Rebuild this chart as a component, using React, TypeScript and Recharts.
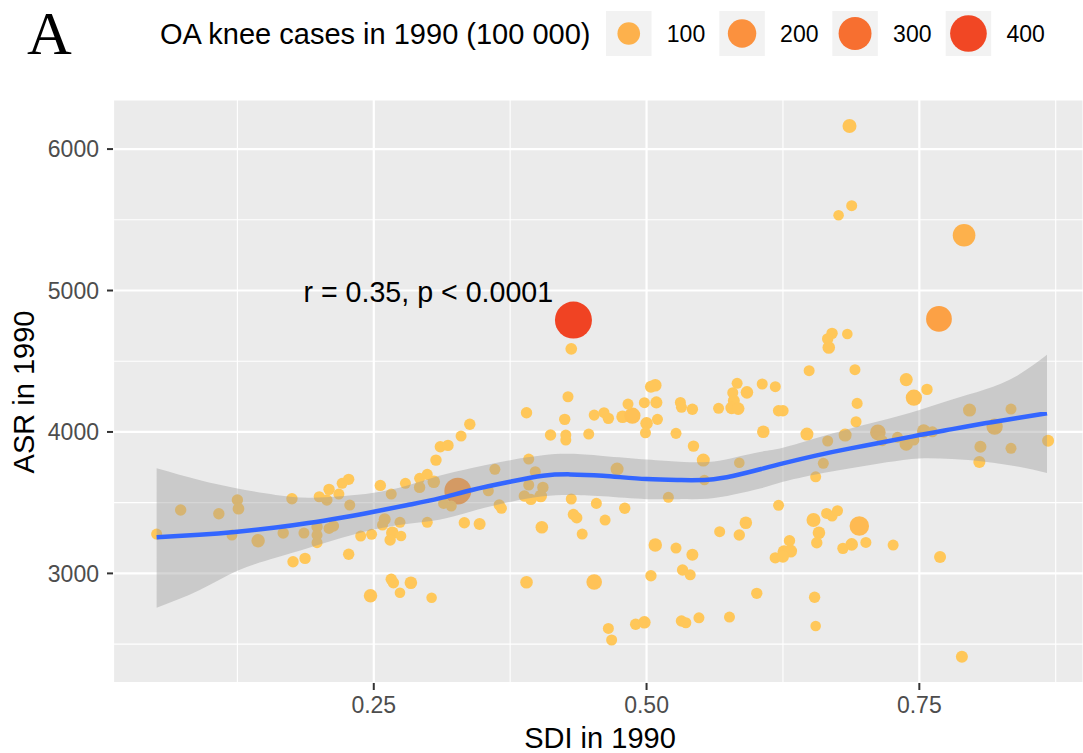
import React from 'react';
import {
  ComposedChart,
  Scatter,
  Area,
  Line,
  XAxis,
  YAxis,
  CartesianGrid,
  ReferenceDot,
} from 'recharts';

// ---------- data ----------
const sdi = [
  0.051, 0.073, 0.108, 0.125, 0.126, 0.120, 0.144, 0.167, 0.175, 0.176,
  0.187, 0.186, 0.198, 0.198, 0.198, 0.200, 0.207, 0.209, 0.209, 0.213,
  0.218, 0.221, 0.227, 0.228, 0.227, 0.238, 0.247, 0.248, 0.256, 0.260,
  0.258, 0.266, 0.267, 0.265, 0.274, 0.275, 0.266, 0.268, 0.274, 0.284,
  0.303, 0.279, 0.292, 0.299, 0.292, 0.305, 0.299, 0.307, 0.311, 0.318,
  0.327, 0.330, 0.338, 0.314, 0.321, 0.333, 0.347, 0.355, 0.361, 0.365,
  0.367, 0.390, 0.392, 0.398, 0.392, 0.388, 0.394, 0.405, 0.403, 0.404,
  0.390, 0.412, 0.425, 0.428, 0.426, 0.426, 0.431, 0.433, 0.436, 0.441,
  0.447, 0.452, 0.454, 0.462, 0.452, 0.461, 0.465, 0.478, 0.487, 0.483,
  0.473, 0.480, 0.465, 0.468, 0.490, 0.498, 0.504, 0.508, 0.498, 0.500,
  0.499, 0.504, 0.508, 0.509, 0.510, 0.520, 0.527, 0.527, 0.531, 0.532,
  0.542, 0.543, 0.552, 0.553, 0.542, 0.533, 0.540, 0.532, 0.536, 0.548,
  0.566, 0.579, 0.583, 0.580, 0.578, 0.584, 0.592, 0.585, 0.567, 0.585,
  0.591, 0.576, 0.601, 0.607, 0.433, 0.431,
  0.606, 0.618, 0.621, 0.625, 0.621, 0.647, 0.666, 0.662, 0.655, 0.682,
  0.693, 0.692, 0.712, 0.716, 0.730, 0.738, 0.745, 0.757, 0.754, 0.762,
  0.745, 0.796, 0.834, 0.819, 0.806, 0.805, 0.834, 0.868, 0.653, 0.665,
  0.670, 0.675, 0.658, 0.656, 0.695, 0.631, 0.626, 0.632, 0.618, 0.625,
  0.680, 0.688, 0.701, 0.726, 0.769, 0.654, 0.655, 0.789,
  0.686, 0.688, 0.676, 0.791, 0.768, 0.670, 0.666, 0.667, 0.684, 0.649,
  0.691, 0.738,
];

const asr = [
  3278, 3448, 3422, 3519, 3457, 3271, 3231, 3285, 3528, 3082,
  3106, 3285, 3330, 3271, 3217, 3542, 3519, 3594, 3318, 3335,
  3561, 3637, 3665, 3483, 3135, 3264, 2842, 3276, 3622, 3382,
  3342, 3561, 3287, 3236, 3361, 3264, 2958, 2934, 2863, 2934,
  2828, 3637, 3672, 3700, 3608, 3648, 3361, 3801, 3895, 3905,
  3582, 3971, 4054, 3495, 3476, 3358, 3349, 3584, 3736, 3483,
  3460, 4136, 3808, 3719, 3625, 3547, 3523, 3608, 3547, 3326,
  2937, 3978, 4089, 4249, 3978, 3943, 3526, 3417, 3393, 3278,
  3985, 4119, 3495, 3377, 2939, 4136, 4096, 4107, 4115, 4197,
  3738, 3460, 2611, 2529, 2640, 2654, 2983, 3200, 4207, 4061,
  3994, 4320, 4330, 4209, 4089, 3538, 3990, 3179, 4209, 4174,
  4160, 3900, 3801, 3660, 3132, 3024, 2990, 2663, 2651, 2686,
  4167, 4277, 4344, 4221, 4170, 4165, 4280, 3782, 3295, 3271,
  3358, 2691, 2859, 4001, 4791, 4588,
  4339, 4320, 4150, 4150, 3481, 3985, 3936, 3778, 3683, 3978,
  4202, 4072, 3997, 3938, 3962, 3914, 4242, 4301, 4006, 4001,
  3943, 4155, 4162, 4037, 3895, 3787, 3884, 3938, 3377, 3424,
  3405, 3443, 3287, 3217, 3335, 3231, 3153, 3158, 3110, 3118,
  3177, 3205, 3219, 3200, 3116, 2831, 2628, 2411,
  6163, 5600, 5532, 5391, 4799, 4697, 4658, 4597, 4692, 4433,
  4440, 4370,
];

// OA knee cases in 1990 (100 000)
const cases = [
  3, 4, 4, 4, 5, 3, 12, 4, 4, 4,
  4, 3, 4, 3, 3, 3, 4, 4, 3, 4,
  3, 3, 4, 3, 4, 3, 12, 3, 4, 6,
  3, 3, 8, 4, 3, 2, 4, 4, 2, 8,
  2, 3, 3, 3, 4, 8, 3, 4, 4, 4,
  170, 3, 4, 3, 3, 4, 6, 3, 3, 4,
  3, 4, 3, 3, 3, 4, 4, 4, 8, 8,
  8, 4, 4, 3, 3, 3, 3, 4, 4, 3,
  3, 3, 3, 3, 25, 3, 4, 8, 30, 3,
  10, 4, 3, 3, 4, 8, 4, 12, 3, 8,
  3, 6, 8, 6, 3, 3, 3, 3, 3, 3,
  4, 4, 10, 2, 6, 4, 3, 4, 3, 3,
  3, 3, 3, 6, 8, 8, 8, 2, 3, 4,
  8, 3, 4, 8, 410, 5,
  3, 3, 4, 4, 3, 10, 3, 3, 3, 10,
  3, 3, 25, 3, 3, 12, 30, 4, 12, 3,
  3, 10, 3, 30, 6, 6, 3, 6, 15, 3,
  3, 3, 8, 4, 60, 4, 10, 10, 4, 6,
  4, 8, 3, 3, 6, 4, 2, 6,
  15, 3, 2, 100, 150, 4, 4, 8, 2, 3,
  3, 10,
];

// loess fit and its confidence band
const fitSdi = [0.051, 0.09, 0.125, 0.16, 0.19, 0.22, 0.25, 0.28, 0.31, 0.34, 0.375, 0.405, 0.43, 0.46, 0.5, 0.53, 0.556, 0.58, 0.605, 0.625, 0.655, 0.687, 0.72, 0.75, 0.78, 0.81, 0.84, 0.867];
const fitAsr = [3255, 3273, 3295, 3324, 3356, 3394, 3436, 3482, 3530, 3590, 3648, 3690, 3700, 3690, 3667, 3660, 3662, 3690, 3738, 3778, 3833, 3884, 3932, 3978, 4020, 4061, 4098, 4132];
const fitLow = [2757, 2880, 3018, 3110, 3180, 3250, 3310, 3350, 3380, 3440, 3505, 3545, 3555, 3545, 3525, 3525, 3528, 3558, 3602, 3648, 3700, 3743, 3785, 3813, 3808, 3790, 3755, 3710];
const fitHigh = [3743, 3660, 3600, 3555, 3535, 3545, 3570, 3620, 3690, 3745, 3800, 3835, 3845, 3830, 3805, 3790, 3787, 3818, 3860, 3888, 3955, 4025, 4090, 4155, 4230, 4300, 4400, 4545];

const xTicks = [0.125, 0.25, 0.375, 0.5, 0.625, 0.75, 0.875];
const xMajor = [0.25, 0.5, 0.75];
const yTicks = [2500, 3000, 3500, 4000, 4500, 5000, 5500, 6000];
const yMajor = [3000, 4000, 5000, 6000];
const legendValues = [100, 200, 300, 400];

const annotationText = 'r = 0.35, p < 0.0001';

// ---------- helpers ----------
const FONT = '"Liberation Sans", Arial, Helvetica, sans-serif';
const X_DOMAIN: [number, number] = [0.011, 0.9];
const Y_DOMAIN: [number, number] = [2225, 6347];

const colorStops: [number, number[]][] = [
  [0, [255, 200, 90]],
  [100, [253, 177, 76]],
  [200, [251, 145, 62]],
  [300, [247, 111, 48]],
  [410, [240, 67, 35]],
];

function caseColor(v: number): string {
  for (let i = 0; i < colorStops.length - 1; i++) {
    const [a, ca] = colorStops[i];
    const [b, cb] = colorStops[i + 1];
    if (v <= b || i === colorStops.length - 2) {
      const t = Math.max(0, Math.min(1, (v - a) / (b - a)));
      const c = ca.map((x, k) => Math.round(x + (cb[k] - x) * t));
      return `rgb(${c[0]},${c[1]},${c[2]})`;
    }
  }
  return 'rgb(255,200,90)';
}

function caseRadius(v: number): number {
  return 4.3 + 14.2 * Math.sqrt(v / 410);
}

const points = sdi.map((x, i) => ({ x, y: asr[i], cases: cases[i] }));
const fit = fitSdi.map((x, i) => ({ x, y: fitAsr[i], band: [fitLow[i], fitHigh[i]] }));

const Bubble = (props: any) => {
  const { cx, cy, payload } = props;
  if (cx == null || cy == null) return <g />;
  return <circle cx={cx} cy={cy} r={caseRadius(payload.cases)} fill={caseColor(payload.cases)} />;
};

const XTick = (props: any) => {
  const { x, y, payload } = props;
  if (!xMajor.includes(payload.value)) return <g />;
  return (
    <g>
      <line x1={x} x2={x} y1={y} y2={y + 7} stroke="#333333" strokeWidth={2} />
      <text x={x} y={y + 30} textAnchor="middle" fontSize={23} fill="#4D4D4D" fontFamily={FONT}>
        {Number(payload.value).toFixed(2)}
      </text>
    </g>
  );
};

const YTick = (props: any) => {
  const { x, y, payload } = props;
  if (!yMajor.includes(payload.value)) return <g />;
  return (
    <g>
      <line x1={x - 6} x2={x} y1={y} y2={y} stroke="#333333" strokeWidth={2} />
      <text x={x - 14} y={y + 8.2} textAnchor="end" fontSize={23} fill="#4D4D4D" fontFamily={FONT}>
        {payload.value}
      </text>
    </g>
  );
};

const gridLine = (p: any) => (
  <line
    key={p.key ?? `g-${p.index}`}
    x1={p.x1}
    x2={p.x2}
    y1={p.y1}
    y2={p.y2}
    stroke="#FFFFFF"
    strokeWidth={p.index % 2 === 1 ? 2.2 : 1.1}
  />
);

// legend layout
const legendBoxX = [606, 719.3, 832.3, 945.7];

export default function App() {
  return (
    <div
      style={{
        position: 'absolute',
        left: 0,
        top: 0,
        width: 1083,
        height: 753,
        background: '#FFFFFF',
        fontFamily: FONT,
      }}
    >
      {/* base layer: panel, grid, axes, points */}
      <div style={{ position: 'absolute', left: 0, top: 0 }}>
        <ComposedChart width={1083} height={753} margin={{ top: 100, right: 0, bottom: 0, left: 0 }}>
          <CartesianGrid fill="#EBEBEB" horizontal={gridLine} vertical={gridLine} />
          <XAxis
            type="number"
            dataKey="x"
            domain={X_DOMAIN}
            ticks={xTicks}
            interval={0}
            tick={XTick}
            tickLine={false}
            axisLine={false}
            tickSize={0}
            tickMargin={0}
            height={70}
            allowDataOverflow
          />
          <YAxis
            type="number"
            domain={Y_DOMAIN}
            ticks={yTicks}
            interval={0}
            tick={YTick}
            tickLine={false}
            axisLine={false}
            tickSize={0}
            tickMargin={0}
            width={113}
            allowDataOverflow
          />
          <Scatter data={points} dataKey="y" shape={Bubble} isAnimationActive={false} />
        </ComposedChart>
      </div>
      {/* top layer: smoother band and line, drawn over the points as in ggplot */}
      <div style={{ position: 'absolute', left: 0, top: 0 }}>
        <ComposedChart width={1083} height={753} margin={{ top: 100, right: 0, bottom: 70, left: 113 }}>
          <XAxis type="number" dataKey="x" domain={X_DOMAIN} hide allowDataOverflow />
          <YAxis type="number" domain={Y_DOMAIN} hide allowDataOverflow />
          <Area
            data={fit}
            dataKey="band"
            type="natural"
            fill="#999999"
            fillOpacity={0.4}
            stroke="none"
            isAnimationActive={false}
          />
          <Line
            data={fit}
            dataKey="y"
            type="natural"
            stroke="#3366FF"
            strokeWidth={4.5}
            dot={false}
            activeDot={false}
            isAnimationActive={false}
          />
          <ReferenceDot
            x={0.3}
            y={4989}
            r={1}
            fill="none"
            stroke="none"
            label={{ value: annotationText, position: 'center', fontSize: 28.6, fill: '#000000', fontFamily: FONT }}
          />
        </ComposedChart>
      </div>
      <svg
        width={1083}
        height={753}
        style={{ position: 'absolute', left: 0, top: 0, pointerEvents: 'none' }}
      >
        <text x={27} y={54} fontFamily='"Liberation Serif", "Times New Roman", serif' fontSize={62} fill="#000">
          A
        </text>
        <text x={160} y={43.5} fontSize={29} fill="#000" fontFamily={FONT}>
          OA knee cases in 1990 (100 000)
        </text>
        {legendValues.map((v, i) => (
          <g key={v}>
            <rect x={legendBoxX[i]} y={11} width={45.5} height={45} fill="#F2F2F2" />
            <circle cx={legendBoxX[i] + 22.75} cy={33.5} r={caseRadius(v)} fill={caseColor(v)} />
            <text x={legendBoxX[i] + 60.8} y={42.3} fontSize={23} fill="#000" fontFamily={FONT}>
              {v}
            </text>
          </g>
        ))}
        <text
          transform="rotate(-90)"
          x={-392}
          y={34}
          textAnchor="middle"
          fontSize={29}
          fill="#000"
          fontFamily={FONT}
        >
          ASR in 1990
        </text>
        <text x={600} y={748} textAnchor="middle" fontSize={29} fill="#000" fontFamily={FONT}>
          SDI in 1990
        </text>
      </svg>
    </div>
  );
}
